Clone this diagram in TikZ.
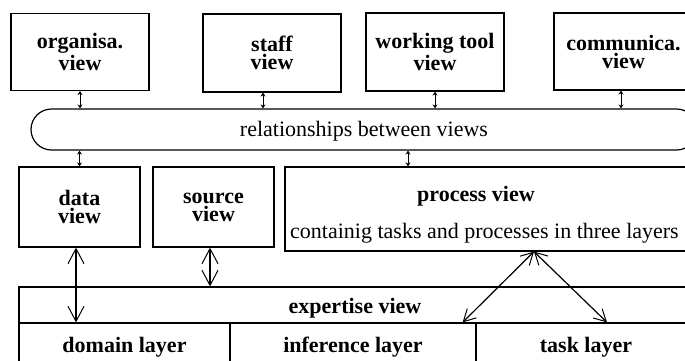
\documentclass[tikz,border=0pt]{standalone}
\usepackage{fontspec}
\setmainfont{Liberation Serif}
\usetikzlibrary{arrows.meta}
\begin{document}
\begin{tikzpicture}[x=1pt,y=-1pt,
  box/.style={draw, line width=1.2pt, inner sep=0pt, align=center,
    font=\fontsize{22}{18}\selectfont\bfseries},
  layer/.style={box, text height=15pt, text depth=5pt},
  btext/.style={inner sep=0pt, anchor=base, font=\fontsize{22}{18}\selectfont\bfseries},
  ntext/.style={inner sep=0pt, font=\fontsize{22}{26}\selectfont},
  smallarr/.style={line width=1pt, {Stealth[length=4pt,width=5pt]}-{Stealth[length=4pt,width=5pt]}},
  bigarr/.style={line width=1.2pt, {Straight Barb[length=15pt,width=16pt,line width=1pt]}-{Straight Barb[length=15pt,width=16pt,line width=1pt]}},
  midarr/.style={line width=1.2pt, {Straight Barb[length=12pt,width=13pt,line width=1pt]}-{Straight Barb[length=12pt,width=13pt,line width=1pt]}},
]
\path[use as bounding box] (0,0) rectangle (685,361);
\clip (0,0) rectangle (685,361);

% top boxes
\node[box, minimum width=138, minimum height=77] (org) at (80,52) {organisa.\\view};
\node[box, minimum width=138, minimum height=78] (staff) at (272,53) {staff\\view};
\node[box, minimum width=138, minimum height=78] (tool) at (435,52) {working tool\\view};
\node[box, minimum width=139, minimum height=77] (comm) at (623.5,51.5) {communica.\\view};

% relationships
\node[draw, line width=1.2pt, rounded corners=20.5pt, minimum width=666, minimum height=41,
      ntext, text height=17pt, text depth=3pt] (rel) at (364,129.5) {relationships between views};

% middle boxes
\node[box, minimum width=121, minimum height=80] (data) at (79.5,207) {data\\view};
\node[box, minimum width=121, minimum height=80] (source) at (213.5,207) {source\\view};
\node[box, minimum width=411, minimum height=84] (process) at (490.5,209) {};
\node[btext] (ptitle) at (476,201) {process view};
\node[ntext, anchor=base west] (ptext) at (290,238) {containig tasks and processes in three layers};

% expertise
\node[box, minimum width=677, minimum height=36] (expertise) at (357.5,305) {};
\node[btext] (etitle) at (355,313) {expertise view};
\node[layer, minimum width=211, minimum height=48] (domain) at (124.5,347) {domain layer};
\node[layer, minimum width=246, minimum height=48] (inference) at (353,347) {inference layer};
\node[layer, minimum width=220, minimum height=48] (task) at (586,347) {task layer};

% connectors
\draw[smallarr] (org.south) -- (org.south |- rel.north);
\draw[smallarr] ([xshift=-9pt]staff.south) -- ([xshift=-9pt]staff.south |- rel.north);
\draw[smallarr] (tool.south) -- (tool.south |- rel.north);
\draw[smallarr] ([xshift=-2.5pt]comm.south) -- ([xshift=-2.5pt]comm.south |- rel.north);
\draw[smallarr] (data.north |- rel.south) -- (data.north);
\draw[smallarr] ([xshift=-82.5pt]process.north |- rel.south) -- ([xshift=-82.5pt]process.north);

\draw[bigarr] ([xshift=-3.5pt]data.south) -- ([xshift=-3.5pt]data.south |- domain.north);
\draw[bigarr] ([xshift=-3.5pt]source.south) -- ([xshift=-3.5pt]source.south |- expertise.north);
\draw[midarr] ([xshift=43.5pt]process.south) -- ([xshift=-14pt]inference.north east);
\draw[midarr] ([xshift=43.5pt]process.south) -- ([xshift=21pt]task.north);
\end{tikzpicture}
\end{document}
